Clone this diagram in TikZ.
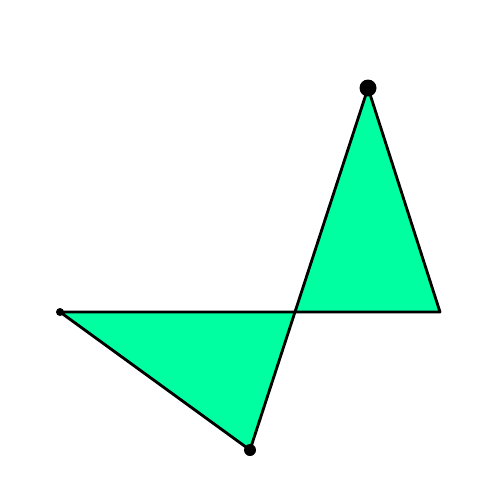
\documentclass[tikz,border=0pt]{standalone}
\usepackage{tikz}
\definecolor{bowGreen}{HTML}{00FFA0}

\begin{document}
\begin{tikzpicture}[
    x=0.02cm, y=-0.02cm,
    edge/.style = {draw=black, line width=1.6pt, line join=round},
    blob/.style = {circle, fill=black, inner sep=0pt}
  ]
  \useasboundingbox (0,0) rectangle (500,500);

  %% corners of the crossed quadrilateral
  \coordinate (left)   at (60,312);
  \coordinate (right)  at (440,312);
  \coordinate (apex)   at (368,88);
  \coordinate (bottom) at (250,450);

  \path[edge, fill=bowGreen] (left) -- (right) -- (apex) -- (bottom) -- cycle;

  %% vertex dots, different sizes
  \node[blob, minimum size=0.34cm] (apexdot) at (apex) {};
  \node[blob, minimum size=0.24cm] (bottomdot) at (bottom) {};
  \node[blob, minimum size=0.16cm] (leftdot) at (left) {};
\end{tikzpicture}
\end{document}
